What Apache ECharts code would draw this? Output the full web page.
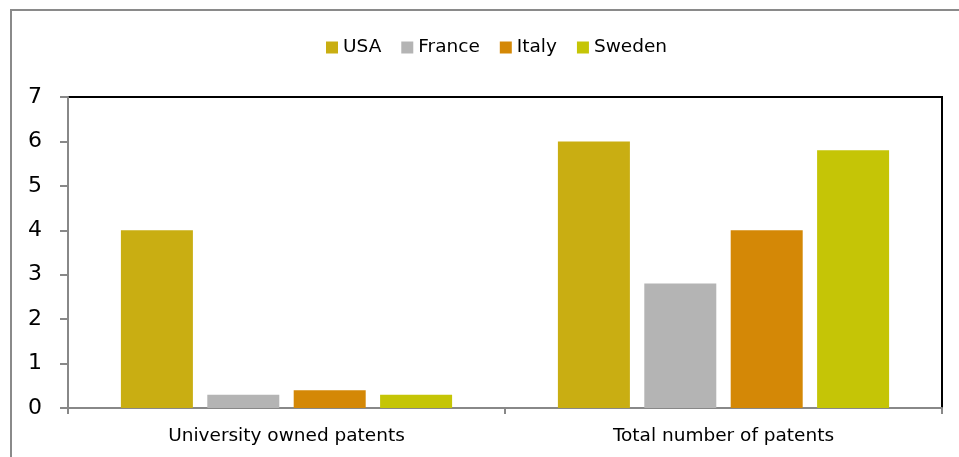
<!DOCTYPE html>
<html>
<head>
<meta charset="utf-8">
<script src="https://cdn.jsdelivr.net/npm/echarts@6/dist/echarts.min.js"></script>
<style>
  html, body { margin: 0; padding: 0; background: #ffffff; }
  #chart { width: 959px; height: 457px; }
</style>
</head>
<body>
<div id="chart"></div>
<script>
// Patent counts by country for two groups
const categories = ['University owned patents', 'Total number of patents'];
const countries = ['USA', 'France', 'Italy', 'Sweden'];
const usa = [4.0, 6.0];
const france = [0.3, 2.8];
const italy = [0.4, 4.0];
const sweden = [0.3, 5.8];
const yTicks = [0, 1, 2, 3, 4, 5, 6, 7];

const colors = ['#C9AE12', '#B4B4B4', '#D48806', '#C5C506'];
const seriesValues = [usa, france, italy, sweden];
const FONT = 'DejaVu Sans';

const chart = echarts.init(document.getElementById('chart'), null, { renderer: 'canvas' });

chart.setOption({
  animation: false,
  backgroundColor: '#ffffff',
  color: colors,
  graphic: [{
    type: 'rect',
    shape: { x: 11, y: 10, width: 960, height: 460 },
    style: { fill: 'none', stroke: '#8a8a8a', lineWidth: 2 },
    silent: true,
    z: 0
  }],
  legend: {
    data: countries,
    top: 33,
    left: 321,
    itemWidth: 12,
    itemHeight: 12,
    itemGap: 20,
    icon: 'rect',
    textStyle: { fontFamily: FONT, fontSize: 18.5, color: '#000000', padding: [0, 0, 0, 0] }
  },
  grid: {
    left: 68,
    right: 17,
    top: 97,
    bottom: 49,
    show: true,
    borderColor: '#000000',
    borderWidth: 2,
    backgroundColor: 'transparent'
  },
  xAxis: {
    type: 'category',
    data: categories,
    axisLine: { lineStyle: { color: '#888888', width: 2 } },
    axisTick: { show: true, length: 6, alignWithLabel: false, lineStyle: { color: '#888888', width: 2 } },
    axisLabel: { fontFamily: FONT, fontSize: 18.5, color: '#000000', margin: 19 },
    splitLine: { show: false }
  },
  yAxis: {
    type: 'value',
    min: yTicks[0],
    max: yTicks[yTicks.length - 1],
    interval: 1,
    axisLine: { show: true, lineStyle: { color: '#888888', width: 2 } },
    axisTick: { show: true, length: 8, lineStyle: { color: '#888888', width: 2 } },
    axisLabel: { fontFamily: FONT, fontSize: 22, color: '#000000', margin: 26 },
    splitLine: { show: false }
  },
  series: countries.map((name, i) => ({
    name: name,
    type: 'bar',
    data: seriesValues[i],
    barWidth: 72,
    barGap: '20%',
    itemStyle: { color: colors[i] }
  }))
});
</script>
</body>
</html>
